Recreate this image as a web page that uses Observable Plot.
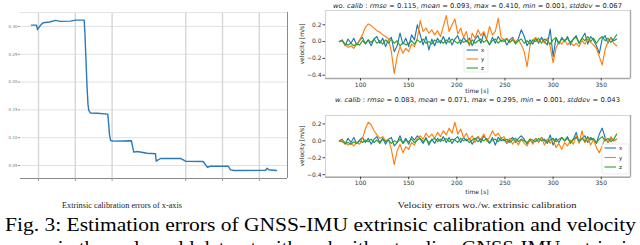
<!DOCTYPE html>
<html><head><meta charset="utf-8">
<script src="https://cdn.jsdelivr.net/npm/d3@7"></script>
<script src="https://cdn.jsdelivr.net/npm/@observablehq/plot@0.6"></script>
<style>
body{margin:0;background:#fff}
#fig{position:relative;width:640px;height:245px;overflow:hidden;background:#fff}
#fig > *{position:absolute}
</style></head><body><div id="fig"></div>
<script>
// ---------- left panel: extrinsic calibration error of x-axis ----------
const iter = [0.81,0.946,0.973,1.02,1.082,1.136,1.30,1.462,1.598,1.870,2.005,2.242,2.26,2.29,2.32,2.345,2.367,2.413,2.60,2.883,2.90,2.93,2.957,3.046,3.527,3.56,3.590,3.682,3.954,4.179,4.198,4.315,4.859,4.995,5.476,5.584,5.674,6.155,6.217,6.307,7.168,7.214,7.258,7.467];
const errX = [0.3023,0.3023,0.2941,0.2990,0.3041,0.3067,0.3080,0.3108,0.3090,0.3095,0.3113,0.3113,0.2900,0.2400,0.1900,0.1600,0.1489,0.1441,0.1440,0.1423,0.1300,0.1050,0.0950,0.0937,0.0944,0.0830,0.0739,0.0752,0.0721,0.0710,0.0577,0.0626,0.0626,0.0577,0.0572,0.0469,0.0487,0.0487,0.0422,0.0410,0.0415,0.0451,0.0422,0.0410];
const iterTicks = [1,2,3,5,6,7];
const errTicks = [0.05,0.10,0.15,0.20,0.25,0.30];
const iterDomain = [0.511, 7.766];
const errDomain = [0.0266, 0.325];

// ---------- right panels: velocity errors ----------
const time = [78,81,84,87,90,93,96,99,102,105,108,111,114,117,120,123,126,129,132,135,138,141,144,147,150,153,156,159,162,165,168,171,174,177,180,183,186,189,192,195,198,201,204,207,210,213,216,219,222,225,228,231,234,237,240,243,246,249,252,255,258,261,264,267,270,273,276,279,282,285,288,291,294,297,300,303,306,309,312,315,318,321,324,327,330,333,336,339,342,345,348,351,354,357,360,363,366];
const xWo = [0.00,0.02,-0.05,0.03,-0.02,0.04,-0.04,0.01,0.05,-0.03, 0.02,-0.05,0.03,0.06,-0.02,0.04,-0.06,0.02,0.05,-0.12, -0.05,0.10,-0.03,0.04,-0.06,0.08,0.02,0.20,0.08,-0.04, 0.06,-0.10,0.03,-0.05,0.04,-0.02,0.06,-0.03,0.05,-0.04, 0.03,0.07,-0.03,0.05,0.00,0.04,-0.05,0.03,0.07,-0.02, 0.10,0.02,-0.04,0.05,-0.02,0.06,0.00,0.03,-0.04,0.02, 0.05,-0.03,0.04,0.14,0.06,-0.05,0.02,-0.03,0.04,-0.02, 0.05,0.00,-0.04,0.15,-0.18,0.04,-0.03,0.05,0.00,0.06, -0.04,0.03,0.07,-0.02,0.04,0.10,-0.03,0.06,0.02,-0.05, -0.14,0.03,0.07,-0.02,0.05,0.01,0.03];
const yWo = [0.00,0.01,-0.04,-0.07,-0.05,-0.08,-0.03,0.02,0.08,0.17, 0.21,0.19,0.16,0.13,0.11,0.08,0.06,0.03,-0.12,-0.38, -0.18,-0.06,-0.14,-0.08,-0.12,-0.03,-0.06,0.04,0.25,0.12, 0.16,0.10,0.14,0.08,0.13,0.06,0.18,0.31,0.12,0.20, 0.27,0.09,0.16,0.05,0.12,-0.06,0.10,0.04,0.14,0.07, 0.12,0.03,0.18,0.08,0.12,0.28,0.05,0.02,0.04,-0.01, 0.03,0.00,0.02,-0.04,-0.12,-0.30,-0.05,0.02,0.05,0.00, 0.03,-0.02,0.04,-0.06,-0.25,-0.08,0.00,-0.03,0.02,-0.04, 0.00,-0.05,-0.02,-0.06,0.01,-0.03,0.03,-0.01,-0.04,-0.08, -0.18,-0.28,-0.10,0.00,0.04,-0.02,-0.05];
const zWo = [0.00,0.01,-0.03,-0.04,-0.02,-0.05,-0.03,-0.04,0.01,-0.02, 0.02,-0.01,0.03,-0.02,0.01,-0.03,0.02,-0.02,0.03,-0.02, 0.01,-0.05,-0.01,-0.04,-0.02,0.01,-0.03,0.02,-0.01,0.03, -0.02,0.00,-0.03,0.02,-0.01,0.01,-0.02,0.02,-0.01,0.03, 0.00,-0.02,0.02,-0.01,0.01,-0.03,0.02,-0.02,0.01,0.03, -0.01,0.02,-0.03,0.01,0.03,-0.02,0.02,0.00,0.03,-0.01, 0.02,-0.02,0.01,0.03,-0.02,0.01,-0.03,0.02,0.00,0.04, -0.02,0.03,0.01,-0.03,0.02,0.05,-0.02,0.03,0.01,0.04, -0.01,0.03,0.05,-0.02,0.04,0.01,0.06,0.00,0.04,-0.02, 0.03,0.06,0.01,0.04,-0.01,0.03,0.08];
const xW = [0.00,0.02,-0.04,0.03,-0.02,0.04,-0.03,0.01,0.04,-0.02, 0.03,-0.04,0.02,0.05,-0.02,0.03,-0.04,0.02,0.04,-0.06, -0.02,0.06,-0.03,0.03,-0.04,0.05,0.01,0.06,0.02,-0.03, 0.04,-0.05,0.02,-0.03,0.03,-0.01,0.05,-0.02,0.04,-0.03, 0.02,0.05,-0.02,0.04,0.00,0.03,-0.04,0.02,0.05,-0.02, 0.06,0.01,-0.03,0.04,-0.05,0.04,0.00,0.02,-0.03,0.01, 0.04,-0.02,0.03,0.06,0.02,-0.04,0.01,-0.02,0.03,-0.01, 0.04,0.00,-0.03,0.07,-0.05,0.03,-0.02,0.04,0.00,0.05, -0.03,0.02,0.10,-0.02,0.03,0.06,-0.02,0.04,0.01,-0.03, 0.08,0.15,0.04,-0.02,0.03,0.00,0.02];
const yW = [0.00,0.01,-0.02,-0.05,-0.03,-0.06,-0.02,-0.04,0.03,0.14, 0.22,0.19,0.12,0.07,0.03,0.05,0.00,0.02,-0.10,-0.28, -0.12,-0.04,-0.14,-0.07,-0.10,-0.02,-0.05,0.03,0.06,0.02, 0.09,0.04,0.08,0.03,0.10,0.05,0.12,0.07,0.15,0.09, 0.22,0.08,0.14,0.04,0.09,0.01,0.06,-0.02,0.05,0.02, 0.08,0.00,0.04,0.12,0.06,0.09,0.03,0.05,-0.02,0.03, -0.04,0.01,-0.05,0.02,-0.03,-0.06,0.02,-0.04,0.03,-0.02, 0.04,-0.05,0.02,-0.03,0.03,-0.08,-0.03,-0.10,-0.02,-0.06, 0.01,-0.04,0.06,-0.03,0.12,-0.02,0.04,-0.05,0.02,-0.08, -0.14,-0.06,0.03,-0.02,0.05,0.00,0.02];
const zW = [0.00,-0.01,-0.03,-0.02,-0.04,-0.01,-0.03,0.00,-0.02,0.01, -0.01,0.02,-0.02,0.01,-0.03,0.02,-0.01,0.01,-0.03,0.00, -0.02,0.02,-0.03,0.01,-0.01,0.02,-0.02,0.01,0.03,-0.01, 0.02,-0.02,0.01,0.03,-0.01,0.02,0.00,0.03,-0.01,0.02, 0.01,-0.02,0.03,0.00,0.02,-0.02,0.01,0.03,-0.01,0.02, 0.00,0.03,-0.02,0.01,0.02,-0.01,0.03,0.00,0.02,-0.02, 0.01,0.03,-0.01,0.02,0.00,-0.02,0.02,0.01,-0.01,0.03, 0.00,0.02,-0.02,0.01,0.03,-0.01,0.02,0.04,0.00,0.03, -0.02,0.02,0.04,0.00,0.03,-0.01,0.05,0.01,0.03,-0.02, 0.02,0.05,0.00,0.03,-0.01,0.02,0.08];

const axisNames = ["x","y","z"];
const axisColors = ["#1f77b4","#ff7f0e","#2ca02c"];
const timeTicks = [100,150,200,250,300,350];
const velTicks = [-0.4,-0.2,0.0,0.2];
const timeDomain = [63.6, 380.4];
const velDomainWo = [-0.44, 0.37];
const velDomainW = [-0.43, 0.30];

const statNames = ["rmse","mean","max","min","stddev"];
const statsWo = ["0.115","0.093","0.410","0.001","0.067"];
const statsW = ["0.083","0.071","0.295","0.001","0.043"];

const leftCaption = "Extrinsic calibration errors of x-axis";
const rightCaption = "Velocity errors wo./w. extrinsic calibration";
const figCaption1 = "Fig. 3: Estimation errors of GNSS-IMU extrinsic calibration and velocity";
const figCaption2 = "errors in the real-world dataset with and without online GNSS-IMU extrinsic";

// ---------- build ----------
const fig = document.getElementById("fig");
const base = {fontFamily: "DejaVu Sans", fontSize: "6px", color: "#222", background: "transparent", overflow: "visible"};

const leftRows = iter.map((t, i) => ({t, e: errX[i]}));
const left = Plot.plot({
  width: 300, height: 185, marginLeft: 20, marginRight: 13, marginTop: 12, marginBottom: 7,
  style: base,
  x: {domain: iterDomain, label: null},
  y: {domain: errDomain, label: null},
  marks: [
    Plot.gridY({ticks: errTicks, stroke: "#e2e2e2", strokeOpacity: 1, strokeWidth: 1}),
    Plot.gridX({ticks: iterTicks, stroke: "#d6d6d6", strokeOpacity: 1, strokeWidth: 1.4}),
    Plot.ruleY([errDomain[1]], {stroke: "#e4e4e4"}),
    Plot.ruleY([errDomain[0]], {stroke: "#8a8a8a"}),
    Plot.ruleX([iterDomain[1]], {stroke: "#8a8a8a"}),
    Plot.line(leftRows, {x: "t", y: "e", stroke: "#2a7ab9", strokeWidth: 1.4}),
    Plot.axisY({ticks: errTicks, tickSize: 2, tickPadding: 1, fontSize: 4, tickFormat: d3.format(".2f"), stroke: "#999", fill: "#777", label: null}),
    Plot.axisX({ticks: iterTicks, tickSize: 3, tickFormat: () => "", stroke: "#999", label: null})
  ]
});
left.style.left = "0px"; left.style.top = "0px";
fig.appendChild(left);

function rowsOf(xs, ys, zs) {
  const cols = [xs, ys, zs];
  return axisNames.flatMap((a, k) => time.map((t, i) => ({time: t, v: cols[k][i], axis: a})));
}

function velPlot(rows, yDomain, height, mt, mb) {
  return Plot.plot({
    width: 340, height, marginLeft: 25, marginRight: 10, marginTop: mt, marginBottom: mb,
    style: base,
    x: {domain: timeDomain, label: null},
    y: {domain: yDomain, label: null},
    color: {domain: axisNames, range: axisColors},
    marks: [
      Plot.frame({stroke: "#d4d4d4"}),
      Plot.ruleX([timeDomain[1]], {stroke: "#a8a8a8", strokeWidth: 1.4}),
      Plot.ruleY([yDomain[0]], {stroke: "#a8a8a8", strokeWidth: 1.4}),
      Plot.line(rows, {x: "time", y: "v", z: "axis", stroke: "axis", strokeWidth: 1.15}),
      Plot.axisX({ticks: timeTicks, tickSize: 2.5, tickPadding: 1.5, stroke: "#444", fill: "#333", label: null}),
      Plot.axisY({ticks: velTicks, tickSize: 2.5, tickPadding: 1.5, tickFormat: d3.format(".1f"), stroke: "#444", fill: "#333", label: null})
    ]
  });
}

const top1 = velPlot(rowsOf(xWo, yWo, zWo), velDomainWo, 100, 10, 22);
top1.style.left = "300px"; top1.style.top = "0px";
fig.appendChild(top1);
const top2 = velPlot(rowsOf(xW, yW, zW), velDomainW, 95, 10, 23.3);
top2.style.left = "300px"; top2.style.top = "105px";
fig.appendChild(top2);

// ---------- overlay text, legends ----------
const svg = d3.select(fig).append("svg").attr("width", 640).attr("height", 245)
  .style("left", "0px").style("top", "0px").style("overflow", "visible");

function title(label, stats, x, y, len) {
  const t = svg.append("text").attr("x", x).attr("y", y)
    .attr("font-family", "DejaVu Sans").attr("font-size", 6.6).attr("fill", "#222")
    .attr("textLength", len).attr("lengthAdjust", "spacingAndGlyphs");
  t.append("tspan").attr("font-style", "italic").text(label);
  t.append("tspan").text(" : ");
  statNames.forEach((n, i) => {
    t.append("tspan").attr("font-style", "italic").text(n);
    t.append("tspan").text(" = " + stats[i] + (i < statNames.length - 1 ? ", " : ""));
  });
}
title("wo. calib", statsWo, 333, 7.5, 289);
title("w. calib", statsW, 335, 102, 285);

function txt(s, x, y, opts = {}) {
  const t = svg.append("text").attr("x", x).attr("y", y).text(s)
    .attr("font-family", opts.family || "DejaVu Sans").attr("font-size", opts.size || 6)
    .attr("fill", opts.fill || "#222").attr("text-anchor", opts.anchor || "middle");
  if (opts.len) t.attr("textLength", opts.len).attr("lengthAdjust", "spacingAndGlyphs");
  if (opts.rotate) t.attr("transform", `rotate(-90 ${x} ${y})`);
  return t;
}
txt("time [s]", 477, 93);
txt("time [s]", 477, 194);
txt("velocity [m/s]", 304, 44, {rotate: true});
txt("velocity [m/s]", 304, 146, {rotate: true});

function legend(x0, y0, w, h, dy) {
  svg.append("rect").attr("x", x0).attr("y", y0).attr("width", w).attr("height", h)
    .attr("fill", "rgba(255,255,255,0.8)").attr("stroke", "#ddd").attr("stroke-width", 0.6).attr("rx", 1.5);
  axisNames.forEach((a, i) => {
    const yy = y0 + 4 + i * dy;
    svg.append("line").attr("x1", x0 + 2.5).attr("x2", x0 + 14).attr("y1", yy).attr("y2", yy)
      .attr("stroke", axisColors[i]).attr("stroke-width", 1.1);
    txt(a, x0 + 17, yy + 2, {anchor: "start", size: 5.5});
  });
}
legend(464, 46, 24, 26, 9);
legend(602, 144, 27, 30, 9.5);

txt(leftCaption, 122, 208, {family: "Liberation Serif", size: 8, len: 120});
txt(rightCaption, 487, 208, {family: "Liberation Serif", size: 8.5, len: 179});
txt(figCaption1, 5, 231, {family: "Liberation Serif", size: 19, anchor: "start", len: 631, fill: "#000"});
txt(figCaption2, 5, 254, {family: "Liberation Serif", size: 19, anchor: "start", len: 631, fill: "#000"});
</script></body></html>
